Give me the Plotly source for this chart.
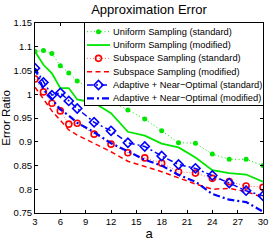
import plotly.graph_objects as go

# ---------------- data ----------------
a_values = [3, 4, 5, 6, 7, 8, 10, 12, 14, 16, 18, 20, 22, 24, 26, 28, 30]

uniform_standard = [1.090, 1.092, 1.086, 1.060, 1.045, 1.028, 1.005, 0.985, 0.967,
                    0.948, 0.923, 0.898, 0.897, 0.874, 0.863, 0.863, 0.850]
uniform_modified = [1.090, 1.062, 1.044, 1.013, 1.013, 0.989, 0.982, 0.960, 0.921,
                    0.913, 0.896, 0.888, 0.867, 0.840, 0.834, 0.831, 0.816]
subspace_standard = [1.032, 1.005, 0.981, 0.965, 0.937, 0.939, 0.916, 0.895, 0.877,
                     0.866, 0.855, 0.837, 0.834, 0.823, 0.816, 0.807, 0.804]
subspace_modified = [1.015, 0.990, 0.965, 0.945, 0.925, 0.914, 0.897, 0.879, 0.859,
                     0.848, 0.837, 0.824, 0.811, 0.800, 0.802, 0.795, 0.783]
adaptive_standard = [1.055, 1.025, 0.998, 1.003, 0.986, 0.970, 0.941, 0.923, 0.898,
                     0.890, 0.870, 0.852, 0.844, 0.829, 0.813, 0.797, 0.786]
adaptive_modified = [1.055, 1.010, 0.990, 0.968, 0.955, 0.940, 0.920, 0.897, 0.880,
                     0.862, 0.850, 0.830, 0.816, 0.790, 0.778, 0.773, 0.753]

series_names = [
    "Uniform Sampling (standard)",
    "Uniform Sampling (modified)",
    "Subspace Sampling (standard)",
    "Subspace Sampling (modified)",
    "Adaptive + Near\u2212Optimal (standard)",
    "Adaptive + Near\u2212Optimal (modified)",
]

x_tick_values = [3, 6, 9, 12, 15, 18, 21, 24, 27, 30]
y_tick_values = [0.75, 0.8, 0.85, 0.9, 0.95, 1.0, 1.05, 1.1, 1.15]
y_tick_labels = ["0.75", "0.8", "0.85", "0.9", "0.95", "1", "1.05", "1.1", "1.15"]

title_text = "Approximation Error"
x_label = "a"
y_label = "Error Ratio"

# ---------------- styles ----------------
GREEN = "rgb(0,230,0)"
RED = "rgb(255,0,0)"
BLUE = "rgb(0,0,255)"
FONT = "Liberation Sans, Arial, Helvetica, sans-serif"

styles = [
    dict(line=dict(color=GREEN, width=1, dash="1px,2.5px"),
         marker=dict(symbol="circle", size=5, color=GREEN)),
    dict(line=dict(color=GREEN, width=1.8), marker=None),
    dict(line=dict(color="rgba(255,80,80,0.8)", width=1, dash="1px,2px"),
         marker=dict(symbol="circle-open", size=6, color=RED, line=dict(width=1.6))),
    dict(line=dict(color=RED, width=1.5, dash="5px,3.5px"), marker=None),
    dict(line=dict(color=BLUE, width=1.5, dash="6px,3px,2px,3px"),
         marker=dict(symbol="diamond-open", size=7, color=BLUE, line=dict(width=1.6))),
    dict(line=dict(color=BLUE, width=2.2, dash="7px,3px,2px,3px"), marker=None),
]

all_series = [uniform_standard, uniform_modified, subspace_standard,
              subspace_modified, adaptive_standard, adaptive_modified]

fig = go.Figure()

for name, vals, st in zip(series_names, all_series, styles):
    kw = dict(x=a_values, y=vals, name=name, showlegend=False,
              line=st["line"], xaxis="x", yaxis="y")
    if st["marker"] is not None:
        kw["mode"] = "lines+markers"
        kw["marker"] = st["marker"]
    else:
        kw["mode"] = "lines"
    fig.add_trace(go.Scatter(**kw))

# ---------------- legend drawn as an inset panel ----------------
LEG_W, LEG_H = 178, 82
legend_rows = [LEG_H - 8.7 - 13.33 * i for i in range(len(series_names))]
for name, yc, st in zip(series_names, legend_rows, styles):
    fig.add_trace(go.Scatter(x=[2, 25], y=[yc, yc], mode="lines", line=st["line"],
                             xaxis="x2", yaxis="y2", showlegend=False, hoverinfo="skip"))
    if st["marker"] is not None:
        fig.add_trace(go.Scatter(x=[13.5], y=[yc], mode="markers", marker=st["marker"],
                                 xaxis="x2", yaxis="y2", showlegend=False, hoverinfo="skip"))
    fig.add_annotation(x=26, y=yc, xref="x2", yref="y2", text=name, showarrow=False,
                       xanchor="left", yanchor="middle",
                       font=dict(family=FONT, size=9.3, color="black"))

W, H = 273, 245
ML, MR, MT, MB = 35, 10, 23, 32
plot_w = W - ML - MR
plot_h = H - MT - MB
leg_x0 = 1 - LEG_W / plot_w
leg_y0 = 1 - LEG_H / plot_h

axis_common = dict(showline=True, linecolor="black", linewidth=1, mirror="ticks",
                   ticks="inside", ticklen=3, tickcolor="black", tickwidth=1,
                   showgrid=False, zeroline=False, automargin=False,
                   tickfont=dict(family=FONT, size=9.5, color="black"))

fig.update_layout(
    width=W, height=H,
    margin=dict(l=ML, r=MR, t=MT, b=MB, pad=0),
    paper_bgcolor="white", plot_bgcolor="white",
    font=dict(family=FONT, color="black"),
    title=dict(text=title_text, x=(ML + plot_w / 2) / W, xanchor="center",
               y=1 - 9.5 / H, yanchor="middle", automargin=False,
               font=dict(family=FONT, size=13, color="black")),
    xaxis=dict(range=[3, 30], tickvals=x_tick_values, domain=[0, 1],
               title=dict(text=x_label, standoff=2,
                          font=dict(family=FONT, size=13, color="black")),
               **axis_common),
    yaxis=dict(range=[0.75, 1.15], tickvals=y_tick_values, ticktext=y_tick_labels,
               domain=[0, 1],
               title=dict(text=y_label, standoff=3,
                          font=dict(family=FONT, size=11.5, color="black")),
               **axis_common),
    xaxis2=dict(domain=[leg_x0, 1], range=[0, LEG_W], anchor="y2", automargin=False,
                showline=True, mirror=True, linecolor="black", linewidth=1,
                showticklabels=False, ticks="", showgrid=False, zeroline=False,
                fixedrange=True),
    yaxis2=dict(domain=[leg_y0, 1], range=[0, LEG_H], anchor="x2", automargin=False,
                showline=True, mirror=True, linecolor="black", linewidth=1,
                showticklabels=False, ticks="", showgrid=False, zeroline=False,
                fixedrange=True),
)

fig.write_html("out.html",
               config={"displayModeBar": False, "staticPlot": True},
               post_script="document.body.style.margin='0';"
                           "document.body.style.overflow='hidden';")
